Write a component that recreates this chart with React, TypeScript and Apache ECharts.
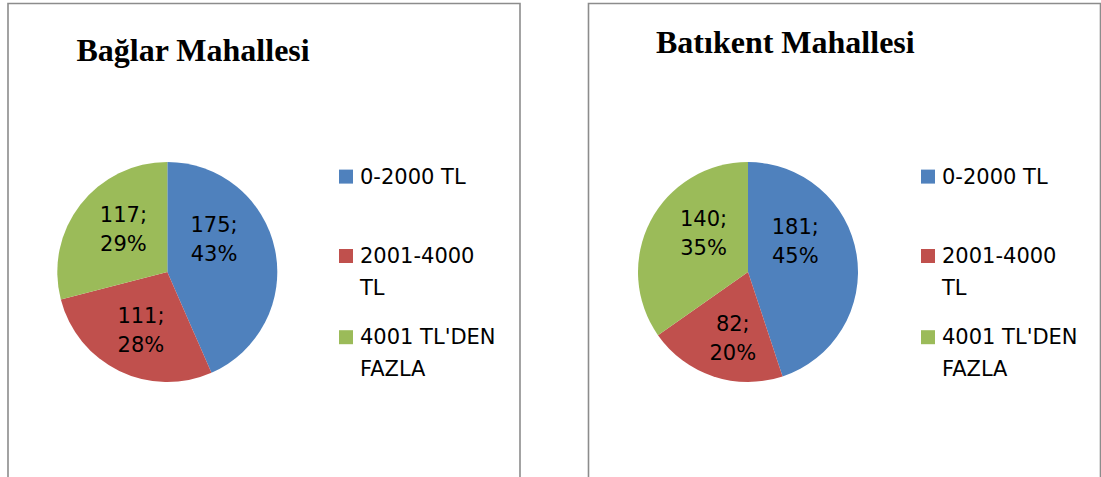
import React, { useEffect, useRef } from "react";
import * as echarts from "echarts";

// ---- data ----
const categories = ["0-2000 TL", "2001-4000 TL", "4001 TL'DEN FAZLA"];
const legendTexts = ["0-2000 TL", "2001-4000\nTL", "4001 TL'DEN\nFAZLA"];
const baglarValues = [175, 111, 117];
const batikentValues = [181, 82, 140];
const chartTitles = ["Bağlar Mahallesi", "Batıkent Mahallesi"];

// ---- styling / layout ----
const colors = ["#4F81BD", "#C0504D", "#9BBB59"];
const SANS = "DejaVu Sans";
const SERIF = "Liberation Serif";

const panels = [
  {
    values: baglarValues,
    title: chartTitles[0],
    borderX: 8,
    titleLeft: 76.5,
    titleTop: 34,
    center: [167.3, 272],
    legendLeft: 339,
    nudges: [
      [-10, -21],
      [-1, 6],
      [2, -7],
    ],
  },
  {
    values: batikentValues,
    title: chartTitles[1],
    borderX: 588.5,
    titleLeft: 656,
    titleTop: 25.5,
    center: [748, 272],
    legendLeft: 921,
    nudges: [
      [-10, -21],
      [3, 11],
      [7, -12],
    ],
  },
];

const legendTops = [160.6, 208, 289.2];

export default function App() {
  const ref = useRef<HTMLDivElement>(null);

  useEffect(() => {
    if (!ref.current) return;
    const chart = echarts.init(ref.current, null, { renderer: "svg" });

    const titles = panels.map((p) => ({
      text: p.title,
      left: p.titleLeft,
      top: p.titleTop,
      padding: 0,
      textStyle: {
        fontFamily: SERIF,
        fontWeight: "bold",
        fontSize: 32,
        color: "#000",
      },
    }));

    const legends: any[] = [];
    panels.forEach((p) => {
      categories.forEach((name, i) => {
        const multi = legendTexts[i].includes("\n");
        legends.push({
          data: [name],
          orient: "vertical",
          left: p.legendLeft,
          top: legendTops[i],
          padding: 0,
          itemWidth: 14,
          itemHeight: 14,
          icon: "rect",
          selectedMode: false,
          // leading empty line keeps the icon level with the first text line
          formatter: () => (multi ? "\n" : "") + legendTexts[i],
          textStyle: {
            fontFamily: SANS,
            fontSize: 21,
            lineHeight: 32,
            color: "#000",
            padding: [0, 0, 0, 2],
          },
        });
      });
    });

    const series = panels.map((p) => ({
      type: "pie",
      center: p.center,
      radius: 110,
      startAngle: 90,
      clockwise: true,
      percentPrecision: 0,
      avoidLabelOverlap: false,
      silent: true,
      itemStyle: { borderWidth: 0 },
      label: {
        show: true,
        position: "inside",
        formatter: "{c};\n{d}%",
        fontFamily: SANS,
        fontSize: 21,
        lineHeight: 29,
        color: "#000",
        align: "center",
      },
      labelLine: { show: false },
      labelLayout: (params: any) => ({
        dx: p.nudges[params.dataIndex][0],
        dy: p.nudges[params.dataIndex][1],
      }),
      data: categories.map((name, i) => ({
        name,
        value: p.values[i],
        itemStyle: { color: colors[i] },
      })),
    }));

    chart.setOption({
      animation: false,
      backgroundColor: "#fff",
      color: colors,
      title: titles,
      legend: legends,
      graphic: panels.map((p) => ({
        type: "rect",
        shape: { x: p.borderX, y: 3.5, width: 512, height: 600 },
        style: { fill: "none", stroke: "#8c8c8c", lineWidth: 1.6 },
        silent: true,
        z: 0,
      })),
      series,
    });

    return () => chart.dispose();
  }, []);

  return (
    <div
      ref={ref}
      style={{ position: "absolute", left: 0, top: 0, width: 1101, height: 477 }}
    />
  );
}
